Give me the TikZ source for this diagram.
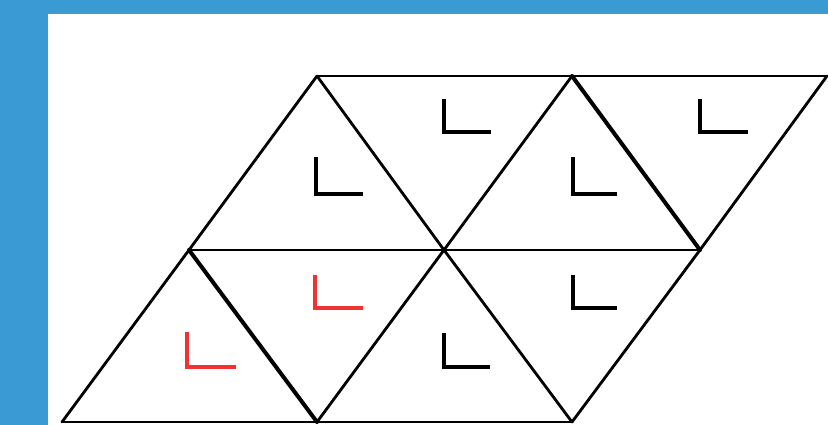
\documentclass[tikz,border=0pt]{standalone}
\definecolor{bgblue}{HTML}{3A9AD4}
\definecolor{markred}{HTML}{EE3333}
\tikzset{
  edge/.style={line width=2.8pt, line cap=round, black},
  thickedge/.style={line width=4pt, line cap=round, black},
  anglemark/.style={line width=3.8pt, line cap=butt, line join=miter},
}
\begin{document}
\begin{tikzpicture}[x=1pt,y=-1pt]
\useasboundingbox (0,0) rectangle (828,425);
\fill[bgblue] (0,0) rectangle (828,425);
\fill[white] (48,14.5) rectangle (830,427);
% vertices
\coordinate (t1) at (317,76);
\coordinate (t2) at (572,76);
\coordinate (t3) at (827,76);
\coordinate (m1) at (189,250);
\coordinate (m2) at (444,250);
\coordinate (m3) at (700,250);
\coordinate (b1) at (62,422);
\coordinate (b2) at (317,422);
\coordinate (b3) at (572,422);
% horizontal edges
\draw[edge] (t1) -- (t3);
\draw[edge] (m1) -- (m3);
\draw[edge] (b1) -- (b3);
% rising edges
\draw[edge] (b1) -- (m1) -- (t1);
\draw[edge] (b2) -- (m2) -- (t2);
\draw[edge] (b3) -- (m3) -- (t3);
% falling edges
\draw[edge] (t1) -- (m2) -- (b3);
\draw[thickedge] (t2) -- (m3);
\draw[thickedge] (m1) -- (b2);
% angle marks
\draw[anglemark] (316,157) -- (316,194) -- (363,194);
\draw[anglemark] (444,99) -- (444,132) -- (491,132);
\draw[anglemark] (573,157) -- (573,194) -- (617,194);
\draw[anglemark] (700,99) -- (700,132) -- (748,132);
\draw[anglemark,markred] (315,275) -- (315,308) -- (363,308);
\draw[anglemark,markred] (187,332) -- (187,367) -- (236,367);
\draw[anglemark] (444,333) -- (444,367) -- (490,367);
\draw[anglemark] (573,275) -- (573,308) -- (617,308);
\end{tikzpicture}
\end{document}
